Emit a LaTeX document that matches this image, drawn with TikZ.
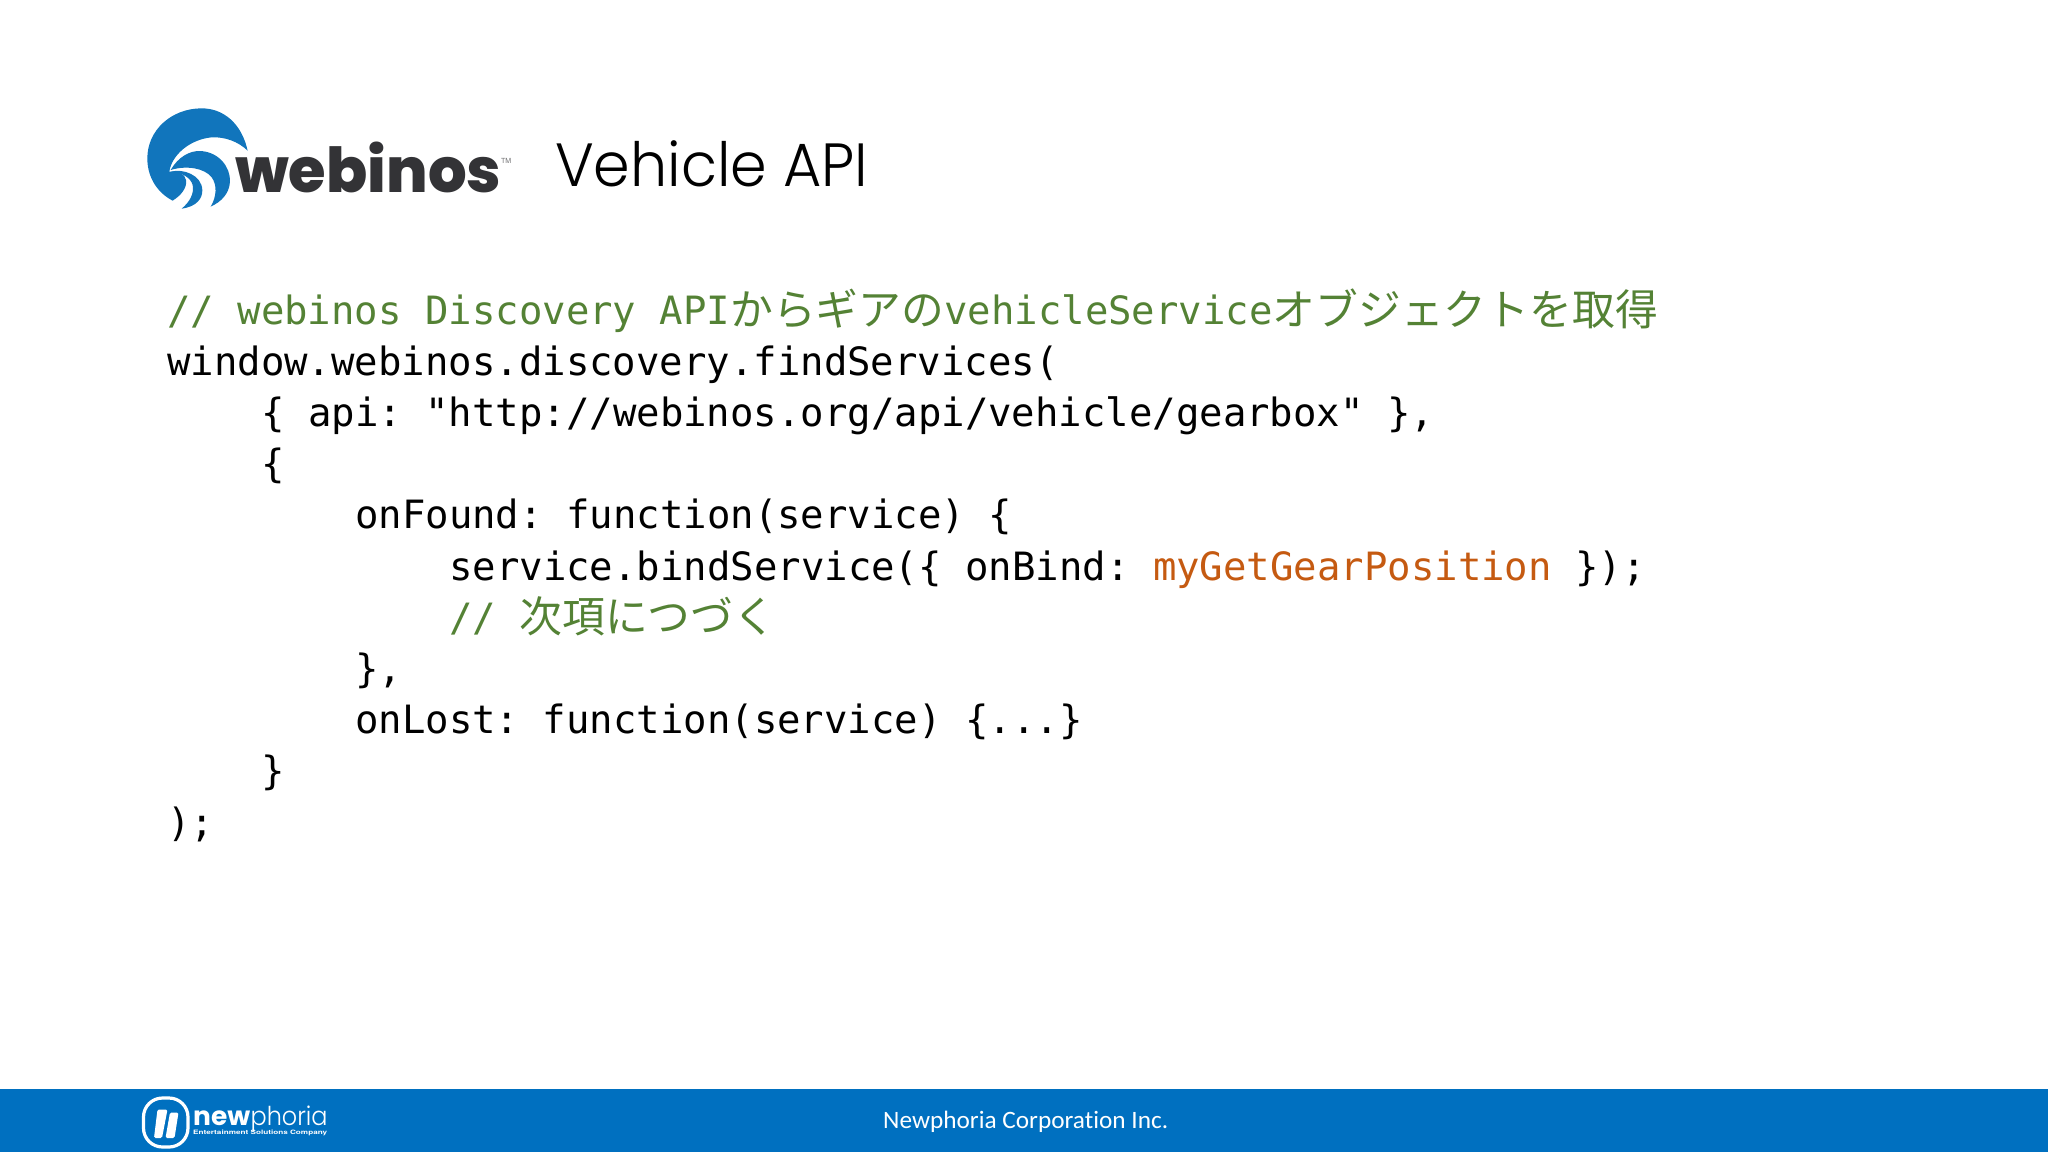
\documentclass[tikz,border=0pt]{standalone}
\usepackage{fontspec}
\setmainfont{Carlito}[Ligatures=NoCommon]
\newfontfamily\codefont{DejaVu Sans Mono}
\newfontfamily\jpfont{Noto Sans CJK JP}
\newfontfamily\tagfont{TeX Gyre Heros}
\newfontfamily\titlefont{Poppins Light}
\newfontfamily\logofont{Poppins ExtraBold}
\newfontfamily\logoboldfont{Poppins}
\newfontfamily\logolightfont{Poppins Light}
\newcommand{\jptext}[1]{\raisebox{-1pt}{\jpfont\fontsize{42.8}{50}\selectfont #1}}
\newcommand{\fitwidth}[2]{\resizebox{#1}{\height}{#2}}
\definecolor{commentgreen}{HTML}{548235}
\definecolor{callorange}{HTML}{C55A11}
\definecolor{barblue}{HTML}{0070C0}
\definecolor{swirlblue}{HTML}{1175BC}
\definecolor{logogray}{HTML}{333336}
\tikzset{
	textline/.style = {inner sep=0, anchor=base west},
	codeline/.style = {textline, font=\codefont\frenchspacing\fontsize{38.97}{50}\selectfont},
	swirl/.style = {fill=swirlblue, draw=none},
}

\begin{document}
\begin{tikzpicture}[x=1pt, y=-1pt]
	\useasboundingbox (0,0) rectangle (2048,1152);
	\fill [barblue] (0,1089) rectangle (2048,1152);

	% webinos logo
	\begin{scope}[shift={(140,100)}, x=0.3333pt, y=-0.3333pt]
		\fill [swirl] (323,152) .. controls (305,70) and (250,25) .. (185,25)
			.. controls (95,25) and (22,90) .. (22,175)
			.. controls (22,235) and (55,280) .. (98,302)
			.. controls (125,285) and (142,262) .. (138,240)
			.. controls (135,222) and (115,212) .. (88,215)
			.. controls (95,165) and (150,118) .. (215,112)
			.. controls (255,110) and (295,125) .. (323,152) -- cycle;
		\fill [swirl] (92,210) .. controls (115,170) and (150,152) .. (180,153)
			.. controls (235,155) and (272,200) .. (270,245)
			.. controls (268,280) and (245,305) .. (212,320)
			.. controls (230,290) and (232,255) .. (215,232)
			.. controls (195,205) and (140,195) .. (92,210) -- cycle;
		\fill [swirl] (92,215) .. controls (130,205) and (185,225) .. (187,270)
			.. controls (188,295) and (170,320) .. (125,326)
			.. controls (150,305) and (163,280) .. (158,255)
			.. controls (152,232) and (125,218) .. (92,215) -- cycle;
	\end{scope}
	\node [textline, text=logogray, font=\logofont\fontsize{62}{70}\selectfont] (webinos) at (235,192) {\fitwidth{266pt}{webinos}};
	\node [textline, text=logogray!70, font=\tagfont\fontsize{7}{8}\selectfont] (webinostm) at (501,163) {TM};

	% title
	\node [textline, font=\titlefont\fontsize{61}{70}\selectfont] (title) at (555,186) {\fitwidth{313pt}{Vehicle API}};

	% code
	\node [codeline, text=commentgreen] (line1) at (167,324) {// webinos Discovery API\jptext{からギアの}vehicleService\jptext{オブジェクトを取得}};
	\node [codeline] (line2) at (167,375.2) {window.webinos.discovery.findServices(};
	\node [codeline] (line3) at (261,426.4) {\{ api: "http://webinos.org/api/vehicle/gearbox" \},};
	\node [codeline] (line4) at (261,477.6) {\{};
	\node [codeline] (line5) at (355,528.8) {onFound: function(service) \{};
	\node [codeline] (line6) at (449,580) {service.bindService(\{ onBind: \textcolor{callorange}{myGetGearPosition} \});};
	\node [codeline, text=commentgreen] (line7) at (449,631.2) {// \jptext{次項につづく}};
	\node [codeline] (line8) at (355,682.4) {\},};
	\node [codeline] (line9) at (355,733.6) {onLost: function(service) \{...\}};
	\node [codeline] (line10) at (261,784.8) {\}};
	\node [codeline] (line11) at (167,836) {);};

	% footer logo
	\draw [white, line width=3.2pt, rounded corners=19pt] (143.5,1098) rectangle (188,1147);
	\fill [white, rounded corners=1.5pt] (157.5,1109.5) -- (167.5,1109.5) -- (162,1138) -- (154,1138) -- cycle;
	\fill [white, rounded corners=1.5pt] (170,1112.5) -- (178.5,1112.5) -- (174.5,1138) -- (165.5,1138) -- cycle;
	\node [textline, text=white, font=\logoboldfont\fontsize{26}{30}\selectfont] (newword) at (193,1125) {\fitwidth{57pt}{\bfseries new}};
	\node [textline, text=white, font=\logolightfont\fontsize{26}{30}\selectfont] (phoria) at (newword.base east) {\fitwidth{77pt}{phoria}};
	\node [textline, text=white, font=\tagfont\bfseries\fontsize{6}{8}\selectfont] (tagline) at (193,1134) {\fitwidth{134pt}{Entertainment Solutions Company}};

	% footer
	\node [textline, text=white, font=\fontsize{25}{30}\selectfont] (footer) at (883,1128) {\fitwidth{285pt}{Newphoria Corporation Inc.}};
\end{tikzpicture}
\end{document}
